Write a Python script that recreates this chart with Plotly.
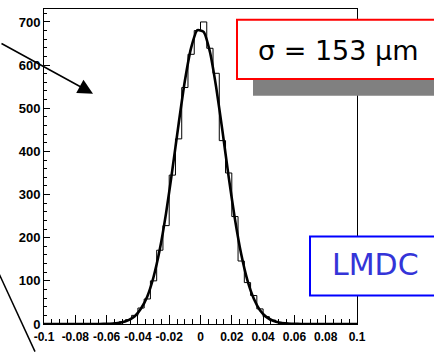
import plotly.graph_objects as go

# ---- data ----
bin_width = 0.004
bin_centers = [round(-0.098 + 0.004 * k, 4) for k in range(50)]
counts = [0, 0, 0, 0, 0, 0, 0, 0, 0, 1,
          1, 2, 5, 10, 20, 37, 58, 100, 171, 228,
          345, 429, 548, 625, 680, 700, 639, 581, 425, 350,
          249, 146, 96, 66, 35, 17, 9, 4, 2, 1,
          0, 0, 0, 0, 0, 0, 0, 0, 0, 0]
fit_x = [-0.1, -0.066, -0.062, -0.058, -0.054, -0.050, -0.046, -0.042, -0.038, -0.034,
         -0.030, -0.026, -0.022, -0.018, -0.014, -0.010, -0.006, -0.002, 0.002, 0.006,
         0.010, 0.014, 0.018, 0.022, 0.026, 0.030, 0.034, 0.038, 0.042, 0.046,
         0.050, 0.054, 0.058, 0.062, 0.066, 0.1]
fit_y = [0, 0, 0.2, 0.7, 1.7, 4, 9, 18, 36, 64,
         109, 173, 257, 357, 463, 563, 640, 681, 677, 631,
         549, 448, 341, 243, 162, 101, 59, 32, 16.5, 8,
         3.5, 1.5, 0.6, 0.2, 0, 0]
x_tickvals = [-0.1, -0.08, -0.06, -0.04, -0.02, 0, 0.02, 0.04, 0.06, 0.08, 0.1]
x_ticktext = ["-0.1", "-0.08", "-0.06", "-0.04", "-0.02", "0", "0.02", "0.04", "0.06", "0.08", "0.1"]
y_tickvals = [0, 100, 200, 300, 400, 500, 600, 700]
y_ticktext = ["0", "100", "200", "300", "400", "500", "600", "700"]

# step outline of histogram
step_x = [c - bin_width / 2 for c in bin_centers] + [bin_centers[-1] + bin_width / 2]
step_y = counts + [counts[-1]]

W, H = 434, 352
L, R, T, B = 44, 77, 8, 24
PW, PH = W - L - R, H - T - B


def px(xp):
    return (xp - L) / PW


def py(yp):
    return (H - B - yp) / PH


fig = go.Figure()
fig.add_trace(go.Scatter(x=step_x, y=step_y, mode="lines", line=dict(color="black", width=1, shape="hv"),
                         hoverinfo="skip", showlegend=False))
fig.add_trace(go.Scatter(x=fit_x, y=fit_y, mode="lines", line=dict(color="black", width=2.6, shape="spline", smoothing=0.6),
                         hoverinfo="skip", showlegend=False))

fig.update_xaxes(range=[-0.1, 0.1], tickvals=x_tickvals, ticktext=x_ticktext, tickangle=0,
                 ticks="inside", ticklen=9, tickwidth=1, tickcolor="black", ticklabelstandoff=2,
                 minor=dict(ticks="inside", ticklen=5, dtick=0.005, tick0=0, tickcolor="black"),
                 showline=True, linecolor="black", linewidth=1, mirror=True,
                 showgrid=False, zeroline=False,
                 tickfont=dict(family="Liberation Sans", size=12, color="black", weight="bold"))
fig.update_yaxes(range=[0, 730], tickvals=y_tickvals, ticktext=y_ticktext,
                 ticks="inside", ticklen=6, tickwidth=1, tickcolor="black",
                 minor=dict(ticks="inside", ticklen=3, dtick=20, tick0=0, tickcolor="black"),
                 showline=True, linecolor="black", linewidth=1, mirror=True,
                 showgrid=False, zeroline=False,
                 tickfont=dict(family="Liberation Sans", size=13, color="black", weight="bold"))

shapes = [
    # shadow of sigma box
    dict(type="rect", xref="paper", yref="paper", x0=px(253), x1=px(440), y0=py(96), y1=py(35),
         fillcolor="#808080", line=dict(width=0), layer="above"),
    # sigma box
    dict(type="rect", xref="paper", yref="paper", x0=px(237), x1=px(440), y0=py(79), y1=py(19),
         fillcolor="white", line=dict(color="red", width=2), layer="above"),
    # LMDC box
    dict(type="rect", xref="paper", yref="paper", x0=px(310), x1=px(440), y0=py(299), y1=py(239),
         fillcolor="white", line=dict(color="blue", width=2), layer="above"),
    # lower-left line
    dict(type="line", xref="paper", yref="paper", x0=px(-5), y0=py(268), x1=px(35), y1=py(356),
         line=dict(color="black", width=1.5), layer="above"),
]

annotations = [
    dict(xref="paper", yref="paper", x=px(338), y=py(50), text="σ = 153 μm", showarrow=False,
         font=dict(family="DejaVu Sans", size=27, color="black"), xanchor="center", yanchor="middle"),
    dict(xref="paper", yref="paper", x=px(375), y=py(268), text="LMDC", showarrow=False,
         font=dict(family="DejaVu Sans", size=30, color="#3434d8"), xanchor="center", yanchor="middle"),
    dict(xref="paper", yref="paper", x=px(93), y=py(94), text="", showarrow=True,
         ax=-100, ay=-51, arrowhead=2, arrowsize=2, arrowwidth=1.5, arrowcolor="black", standoff=0),
]

fig.update_layout(width=W, height=H, margin=dict(l=L, r=R, t=T, b=B),
                  paper_bgcolor="white", plot_bgcolor="white",
                  shapes=shapes, annotations=annotations, showlegend=False)

fig.write_html("out.html")
